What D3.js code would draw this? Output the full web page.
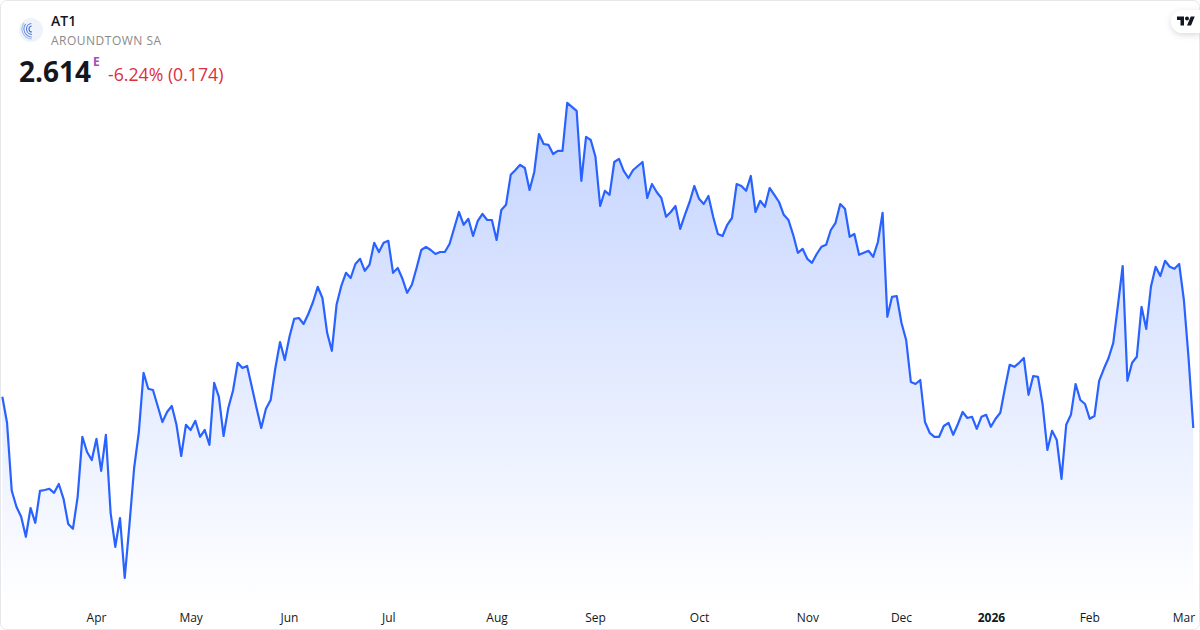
<!DOCTYPE html>
<html><head><meta charset="utf-8">
<script src="https://cdn.jsdelivr.net/npm/d3@7/dist/d3.min.js"></script>
<style>
html,body{margin:0;padding:0;background:#fff;width:1200px;height:630px;overflow:hidden}
svg{display:block}
text{font-family:"Open Sans","Noto Sans",sans-serif}
</style></head><body><div id="chart"></div>
<script>
const symbol = "AT1";
const company = "AROUNDTOWN SA";
const lastPrice = "2.614";
const changeText = "-6.24% (0.174)";
const flagText = "E";
const tickLabels = ["Apr","May","Jun","Jul","Aug","Sep","Oct","Nov","Dec","2026","Feb","Mar"];
const tickIndex = [19.9,40,60.9,82,105,125.9,148,171,190.9,210,230.9,250.9];
const closes = [
2.692,2.627,2.457,2.417,2.392,2.342,2.414,2.377,2.457,2.459,2.462,2.452,2.474,2.437,2.374,2.362,2.442,2.592,2.554,2.534,
2.587,2.507,2.597,2.402,2.317,2.389,2.239,2.372,2.514,2.604,2.752,2.712,2.709,2.669,2.629,2.654,2.669,2.622,2.544,2.622,
2.609,2.632,2.592,2.609,2.572,2.727,2.692,2.594,2.664,2.707,2.777,2.764,2.769,2.717,2.664,2.614,2.662,2.684,2.764,2.829,
2.784,2.842,2.887,2.889,2.874,2.899,2.929,2.967,2.939,2.852,2.807,2.922,2.969,3.002,2.989,3.024,3.037,3.007,3.022,3.077,
3.054,3.077,3.082,3.002,3.014,2.987,2.952,2.972,3.014,3.059,3.067,3.059,3.049,3.054,3.054,3.074,3.114,3.154,3.122,3.137,
3.094,3.132,3.149,3.134,3.134,3.084,3.159,3.172,3.247,3.259,3.272,3.264,3.209,3.254,3.349,3.324,3.322,3.299,3.307,3.307,
3.427,3.417,3.407,3.232,3.342,3.334,3.292,3.169,3.207,3.197,3.279,3.287,3.257,3.239,3.259,3.269,3.279,3.189,3.224,3.204,
3.189,3.142,3.154,3.169,3.112,3.147,3.179,3.219,3.187,3.174,3.194,3.142,3.099,3.094,3.122,3.139,3.224,3.219,3.207,3.244,
3.154,3.182,3.167,3.214,3.197,3.179,3.147,3.134,3.097,3.052,3.062,3.037,3.027,3.049,3.067,3.072,3.109,3.127,3.174,3.162,
3.092,3.099,3.047,3.052,3.057,3.042,3.079,3.152,2.892,2.942,2.944,2.877,2.834,2.729,2.724,2.734,2.629,2.602,2.592,2.592,
2.619,2.627,2.597,2.624,2.654,2.639,2.642,2.612,2.642,2.647,2.617,2.637,2.652,2.714,2.772,2.767,2.777,2.789,2.697,2.744,
2.742,2.672,2.559,2.607,2.584,2.487,2.622,2.647,2.724,2.684,2.674,2.637,2.644,2.732,2.762,2.789,2.827,2.922,3.019,2.732,
2.777,2.792,2.917,2.862,2.967,3.017,2.994,3.032,3.017,3.012,3.024,2.934,2.788,2.614
];

const W = 1200, H = 630;
const x = d3.scaleLinear().domain([0, closes.length - 1]).range([2.33, 1193.3]);
const y = d3.scaleLinear().domain([2.2, 3.5]).range([593.6, 73.6]);
const svg = d3.select("#chart").append("svg").attr("width", W).attr("height", H);
const defs = svg.append("defs");
const grad = defs.append("linearGradient").attr("id","fillGrad").attr("gradientUnits","userSpaceOnUse")
  .attr("x1",0).attr("x2",0).attr("y1",y(d3.max(closes))).attr("y2",604);
grad.append("stop").attr("offset",0).attr("stop-color","#2962ff").attr("stop-opacity",0.28);
grad.append("stop").attr("offset",1).attr("stop-color","#2962ff").attr("stop-opacity",0);
const sh = defs.append("filter").attr("id","tabShadow").attr("x","-40%").attr("y","-40%").attr("width","180%").attr("height","200%");
sh.append("feDropShadow").attr("dx",0).attr("dy",2).attr("stdDeviation",3).attr("flood-color","#000").attr("flood-opacity",0.15);
defs.append("clipPath").attr("id","cardClip").append("rect").attr("x",0.5).attr("y",0.5).attr("width",W-1).attr("height",H-1).attr("rx",6);

const plot = svg.append("g").attr("clip-path","url(#cardClip)");
plot.append("path").datum(closes)
  .attr("d", d3.area().x((d,i)=>x(i)).y0(604).y1(d=>y(d)))
  .attr("fill","url(#fillGrad)");
plot.append("path").datum(closes)
  .attr("d", d3.line().x((d,i)=>x(i)).y(d=>y(d)))
  .attr("fill","none").attr("stroke","#2962ff").attr("stroke-width",2.2).attr("stroke-linejoin","round");

const axis = d3.axisBottom(x).tickValues(tickIndex).tickSize(0)
  .tickFormat((d,i)=>tickLabels[i]);
const ax = svg.append("g").attr("transform","translate(0,604)").call(axis);
ax.select(".domain").remove();
ax.selectAll("text").attr("y",0).attr("dy","0").attr("transform","translate(0,18)")
  .attr("font-size",12).attr("fill","#131722")
  .attr("font-weight",(d,i)=>/^\d+$/.test(tickLabels[i])?700:400)
  .style("font-family",'"Open Sans","Noto Sans",sans-serif');

// Header
svg.append("circle").attr("cx",31).attr("cy",30).attr("r",12).attr("fill","#eef2fb");
const logo = svg.append("g").attr("transform","translate(31,30)").attr("fill","none").attr("stroke-linecap","round");
[[3,"#3f6fd0"],[5.5,"#4d7ad6"],[8,"#6d93de"],[10,"#9db8ea"]].forEach(([r,c])=>{
  logo.append("path").attr("d",d3.arc()({innerRadius:r,outerRadius:r,startAngle:-2.6,endAngle:r>6?-0.4:0.4}))
    .attr("transform","translate(1,-1) rotate(-30)").attr("stroke",c).attr("stroke-width",1.1);
});
svg.append("text").attr("x",51).attr("y",26).attr("font-size",14).attr("font-weight",600).attr("fill","#131722").text(symbol);
svg.append("text").attr("x",51).attr("y",45).attr("font-size",12).attr("fill","#8a8a8a").attr("letter-spacing",0.5).text(company);
svg.append("text").attr("x",19).attr("y",82).attr("font-size",28).attr("font-weight",700).attr("fill","#131722").text(lastPrice);
svg.append("text").attr("x",93).attr("y",66).attr("font-size",12).attr("font-weight",700).attr("fill","#ab47bc").text(flagText);
svg.append("text").attr("x",108).attr("y",81).attr("font-size",17.7).attr("fill","#dc2f41").text(changeText);

// Card border
svg.append("rect").attr("x",0.5).attr("y",0.5).attr("width",W-1).attr("height",H-1).attr("rx",6)
  .attr("fill","none").attr("stroke","#e6e7ea");

// Attribution tab
svg.append("path").attr("d","M1200 10H1183a12 11.5 0 0 0 0 23H1200Z").attr("fill","#fff").attr("filter","url(#tabShadow)");
const tv = svg.append("g").attr("transform","translate(1177,15.5) scale(0.5)").attr("fill","#131722");
tv.append("path").attr("d","M14 20H7V9H0V2h14v18zM28 20h-8l7.5-18h8L28 20z");
tv.append("circle").attr("cx",20).attr("cy",6).attr("r",4);
</script></body></html>
